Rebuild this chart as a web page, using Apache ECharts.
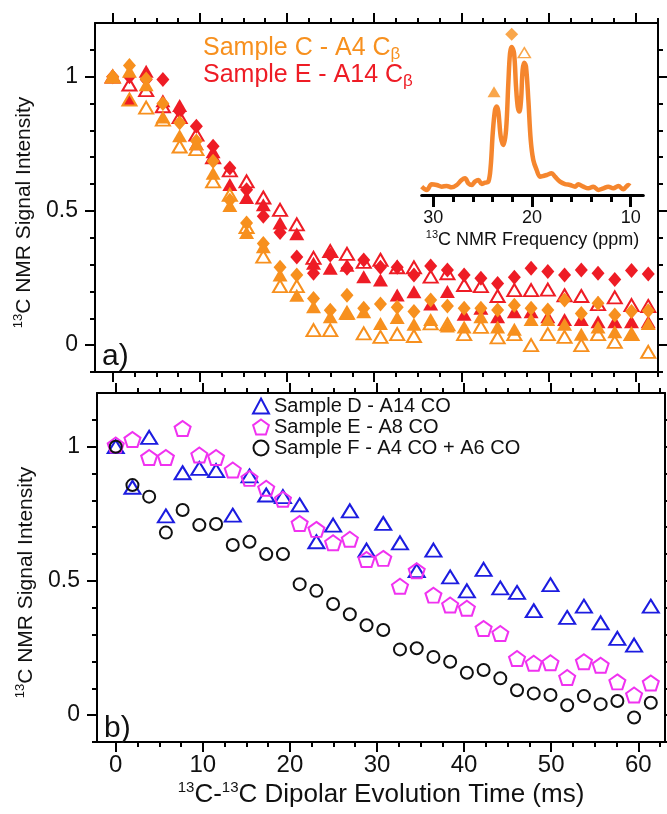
<!DOCTYPE html>
<html><head><meta charset="utf-8">
<script src="https://cdn.jsdelivr.net/npm/echarts@6/dist/echarts.min.js"></script>
<style>html,body{margin:0;padding:0;background:#fff}#c{width:667px;height:814px}</style>
</head><body><div id="c"></div>
<script>
// ---------- data ----------
const times = [0, 1.92, 3.84, 5.76, 7.68, 9.6, 11.52, 13.44, 15.36, 17.28, 19.2, 21.12, 23.04, 24.96, 26.88, 28.8, 30.72, 32.64, 34.56, 36.48, 38.4, 40.32, 42.24, 44.16, 46.08, 48, 49.92, 51.84, 53.76, 55.68, 57.6, 59.52, 61.44];

// panel a) Sample C - A4 Cbeta (orange)
const cTri  = [1.00, 1.02, 0.97, 0.85, 0.78, 0.75, 0.64, 0.52, 0.42, 0.367, 0.261, 0.186, 0.143, 0.106, 0.118, 0.124, 0.081, 0.103, 0.078, 0.096, 0.071, 0.068, 0.106, 0.068, 0.059, 0.096, 0.096, 0.078, 0.041, 0.068, 0.05, 0.041, 0.081];
const cOpen = [1.00, 0.915, 0.885, 0.84, 0.74, 0.73, 0.61, 0.56, 0.44, 0.33, 0.22, 0.22, 0.056, 0.056, 0.12, 0.044, 0.031, 0.041, 0.034, 0.081, 0.078, 0.041, 0.068, 0.029, 0.041, 0.0, 0.041, 0.031, 0.0, 0.041, 0.012, 0.041, -0.025];
const cDia  = [1.00, 1.042, 0.991, 0.90, 0.828, 0.76, 0.685, 0.54, 0.455, 0.379, 0.29, 0.261, 0.174, 0.13, 0.186, 0.137, 0.153, 0.141, 0.125, 0.168, 0.146, 0.137, 0.137, 0.131, 0.149, 0.137, 0.131, 0.168, 0.118, 0.156, 0.112, 0.125, 0.128];
// panel a) Sample E - A14 Cbeta (red)
const eTri  = [1.00, 0.915, 1.02, 0.91, 0.893, 0.75, 0.72, 0.598, 0.55, 0.523, 0.455, 0.415, 0.305, 0.286, 0.298, 0.255, 0.243, 0.187, 0.199, 0.153, 0.2, 0.115, 0.137, 0.106, 0.124, 0.124, 0.106, 0.096, 0.096, 0.087, 0.087, 0.087, 0.087];
const eOpen = [1.00, 0.971, 0.95, 0.89, 0.85, 0.784, 0.70, 0.651, 0.61, 0.55, 0.504, 0.45, 0.325, 0.35, 0.34, 0.31, 0.318, 0.29, 0.29, 0.255, 0.268, 0.224, 0.22, 0.183, 0.205, 0.205, 0.207, 0.186, 0.183, 0.153, 0.178, 0.149, 0.146];
const eDia  = [1.00, 1.00, 0.99, 0.99, 0.87, 0.815, 0.741, 0.66, 0.579, 0.48, 0.42, 0.328, 0.268, 0.336, 0.286, 0.317, 0.29, 0.29, 0.261, 0.295, 0.28, 0.261, 0.249, 0.23, 0.253, 0.286, 0.274, 0.261, 0.28, 0.268, 0.245, 0.278, 0.265];

// panel b)
const dCO = [1.0, 0.849, 1.035, 0.742, 0.903, 0.919, 0.911, 0.745, 0.891, 0.82, 0.814, 0.783, 0.646, 0.708, 0.761, 0.615, 0.714, 0.642, 0.538, 0.615, 0.515, 0.463, 0.543, 0.474, 0.457, 0.389, 0.486, 0.364, 0.406, 0.344, 0.286, 0.261, 0.406];
const eCO = [1.006, 1.027, 0.96, 0.96, 1.068, 0.969, 0.96, 0.913, 0.882, 0.845, 0.804, 0.714, 0.692, 0.642, 0.655, 0.58, 0.584, 0.48, 0.538, 0.447, 0.41, 0.398, 0.323, 0.304, 0.211, 0.193, 0.195, 0.14, 0.199, 0.186, 0.124, 0.075, 0.12];
const fCO = [1.0, 0.857, 0.814, 0.68, 0.764, 0.708, 0.712, 0.634, 0.646, 0.6, 0.6, 0.488, 0.463, 0.414, 0.376, 0.335, 0.317, 0.245, 0.249, 0.217, 0.199, 0.158, 0.168, 0.137, 0.093, 0.081, 0.075, 0.037, 0.071, 0.041, 0.053, -0.009, 0.046];

// inset spectrum
const specPpm = [31.18, 30.67, 30.17, 29.66, 29.15, 28.65, 28.14, 27.63, 27.13, 26.79, 26.45, 26.11, 25.78, 25.44, 25.10, 24.76, 24.42, 24.19, 23.98, 23.75, 23.58, 23.41, 23.17, 22.90, 22.63, 22.40, 22.23, 22.06, 21.82, 21.62, 21.45, 21.28, 21.11, 20.95, 20.78, 20.61, 20.37, 20.13, 19.87, 19.53, 19.19, 18.85, 18.51, 18.01, 17.67, 17.16, 16.66, 16.15, 15.64, 15.31, 14.80, 14.29, 13.79, 13.28, 12.77, 12.27, 11.76, 11.25, 10.75, 10.24, 10.07];
const specInt = [-0.005, -0.029, 0.012, 0.007, -0.005, 0.0, -0.01, 0.007, 0.043, 0.055, 0.019, 0.007, 0.031, 0.043, 0.014, 0.024, 0.031, 0.139, 0.379, 0.547, 0.571, 0.535, 0.355, 0.295, 0.403, 0.739, 0.954, 1.0, 0.954, 0.715, 0.571, 0.535, 0.619, 0.835, 0.887, 0.859, 0.619, 0.331, 0.187, 0.115, 0.067, 0.072, 0.079, 0.091, 0.067, 0.031, 0.014, 0.007, -0.005, 0.012, -0.005, -0.017, -0.005, -0.029, -0.017, -0.005, -0.017, 0.0, -0.024, 0.007, 0.0];
const peakTri = [23.85, 0.678];
const peakDia = [22.06, 1.091];
const peakOpen = [20.78, 0.959];

// ticks
const xMajor = [0, 10, 20, 30, 40, 50, 60];
const xMinor = [2.5, 5, 7.5, 12.5, 15, 17.5, 22.5, 25, 27.5, 32.5, 35, 37.5, 42.5, 45, 47.5, 52.5, 55, 57.5, 62.5];
const yMajor = [0, 0.5, 1];
const yMinor = [-0.1, 0.1, 0.2, 0.3, 0.4, 0.6, 0.7, 0.8, 0.9, 1.1];
const ppmMajor = [10, 20, 30];
const ppmMinor = [12, 14, 16, 18, 22, 24, 26, 28];

// ---------- chart ----------
const FONT = '"Liberation Sans", Arial, sans-serif';
const ORANGE = '#F7901E', RED = '#EE1C25', BLUE = '#1C1CE0', MAG = '#F032F0', BLACK = '#111';
const PENT = 'path://M0,-1 L0.951,-0.309 L0.588,0.809 L-0.588,0.809 L-0.951,-0.309 Z';

function ax(type, grid, pos, min, max, ticks, len, opts) {
  opts = opts || {};
  return Object.assign({
    type: 'value', gridIndex: grid, position: pos, min: min, max: max,
    axisLine: { show: !!opts.line, onZero: false, lineStyle: { color: '#000', width: opts.lw || 2 } },
    axisTick: { show: true, inside: false, length: len, customValues: ticks, lineStyle: { color: '#000', width: opts.tw || 2 } },
    axisLabel: { show: !!opts.labels, customValues: ticks, fontSize: opts.fs || 23, color: BLACK, fontFamily: FONT, margin: opts.margin || 10 },
    splitLine: { show: false }, minorTick: { show: false }
  }, opts.extra || {});
}
const ysup = { s: { fontSize: 13, lineHeight: 18, verticalAlign: 'top', fontFamily: FONT, color: BLACK }, m: { fontSize: 21, lineHeight: 26, fontFamily: FONT, color: BLACK } };
function yName(){ return { name: '{s|13}{m|C NMR Signal Intensity}', nameLocation: 'middle', nameRotate: 90, nameGap: 52, nameTextStyle: { rich: ysup, padding: [0, 30, 0, 0] } }; }

const A = { xmin: -2.03, xmax: 62.56, ymin: -0.1, ymax: 1.2 };
const B = { xmin: -2.15, xmax: 63.07, ymin: -0.1, ymax: 1.2 };

const xAxes = [
  ax('x', 0, 'bottom', A.xmin, A.xmax, xMajor, 10, { line: true }),
  ax('x', 0, 'bottom', A.xmin, A.xmax, xMinor, 5),
  ax('x', 0, 'top', A.xmin, A.xmax, xMajor, 10, { line: true }),
  ax('x', 0, 'top', A.xmin, A.xmax, xMinor, 5),
  ax('x', 1, 'bottom', B.xmin, B.xmax, xMajor, 10, { line: true, labels: true, fs: 24, margin: 11, extra: {
    name: '{s|13}{m|C-}{s|13}{m|C Dipolar Evolution Time (ms)}', nameLocation: 'middle', nameGap: 38,
    nameTextStyle: { rich: { s: { fontSize: 15, lineHeight: 20, verticalAlign: 'top', fontFamily: FONT, color: BLACK }, m: { fontSize: 26, lineHeight: 30, fontFamily: FONT, color: BLACK } } } } }),
  ax('x', 1, 'bottom', B.xmin, B.xmax, xMinor, 5),
  ax('x', 1, 'top', B.xmin, B.xmax, xMajor, 10, { line: true }),
  ax('x', 1, 'top', B.xmin, B.xmax, xMinor, 5),
  ax('x', 2, 'bottom', 8.72, 31.18, ppmMajor, 12, { line: true, labels: true, fs: 18, margin: 14, lw: 3, tw: 3, extra: {
    inverse: true,
    name: '{s|13}{m|C NMR Frequency (ppm)}', nameLocation: 'middle', nameGap: 34,
    nameTextStyle: { rich: { s: { fontSize: 11, lineHeight: 14, verticalAlign: 'top', fontFamily: FONT, color: BLACK }, m: { fontSize: 18, lineHeight: 22, fontFamily: FONT, color: BLACK } } } } }),
  ax('x', 2, 'bottom', 8.72, 31.18, ppmMinor, 7, { tw: 3, extra: { inverse: true } })
];
const yAxes = [
  ax('y', 0, 'left', A.ymin, A.ymax, yMajor, 10, { line: true, labels: true, margin: 17, extra: yName() }),
  ax('y', 0, 'left', A.ymin, A.ymax, yMinor, 5),
  ax('y', 0, 'right', A.ymin, A.ymax, yMajor, 10, { line: true }),
  ax('y', 0, 'right', A.ymin, A.ymax, yMinor, 5),
  ax('y', 1, 'left', B.ymin, B.ymax, yMajor, 10, { line: true, labels: true, margin: 17, extra: yName() }),
  ax('y', 1, 'left', B.ymin, B.ymax, yMinor, 5),
  ax('y', 1, 'right', B.ymin, B.ymax, yMajor, 10, { line: true }),
  ax('y', 1, 'right', B.ymin, B.ymax, yMinor, 5),
  { type: 'value', gridIndex: 2, min: -0.065, max: 1.158, show: false }
];

const pairs = (arr) => times.map((t, i) => [t, arr[i]]);
function sc(name, arr, xi, yi, symbol, size, color, open, z) {
  return {
    type: 'scatter', name: name, xAxisIndex: xi, yAxisIndex: yi, data: pairs(arr),
    symbol: symbol, symbolSize: size, clip: false, z: z || 2,
    itemStyle: open ? { color: 'rgba(255,255,255,0)', borderColor: color, borderWidth: 2, opacity: 1 } : { color: color, opacity: 1 },
    emphasis: { disabled: true }
  };
}

const series = [
  sc('eDia', eDia, 0, 0, 'diamond', [13, 15], RED, false),
  sc('eTri', eTri, 0, 0, 'triangle', [15, 13], RED, false),
  sc('eOpen', eOpen, 0, 0, 'triangle', [14, 12], RED, true),
  sc('cDia', cDia, 0, 0, 'diamond', [13, 15], ORANGE, false),
  sc('cOpen', cOpen, 0, 0, 'triangle', [14, 12], ORANGE, true),
  sc('cTri', cTri, 0, 0, 'triangle', [15, 13], ORANGE, false),
  sc('Sample D - A14 CO', dCO, 4, 4, 'triangle', [16, 13], BLUE, true),
  sc('Sample E - A8 CO', eCO, 4, 4, PENT, [16, 15], MAG, true),
  sc('Sample F - A4 CO + A6 CO', fCO, 4, 4, 'circle', 12, BLACK, true),
  { type: 'line', name: 'spectrum', xAxisIndex: 8, yAxisIndex: 8, data: specPpm.map((p, i) => [p, specInt[i]]),
    showSymbol: false, smooth: 0.35, lineStyle: { color: '#F5862E', width: 4.5 }, clip: false },
  { type: 'scatter', xAxisIndex: 8, yAxisIndex: 8, data: [peakTri], symbol: 'triangle', symbolSize: [13, 11], itemStyle: { color: ORANGE }, clip: false },
  { type: 'scatter', xAxisIndex: 8, yAxisIndex: 8, data: [peakDia], symbol: 'diamond', symbolSize: [13, 13], itemStyle: { color: ORANGE }, clip: false },
  { type: 'scatter', xAxisIndex: 8, yAxisIndex: 8, data: [peakOpen], symbol: 'triangle', symbolSize: [12, 10], itemStyle: { color: '#fff', borderColor: ORANGE, borderWidth: 1.5 }, clip: false }
];

const legRich = (c) => ({ m: { fontSize: 25, lineHeight: 30, color: c, fontFamily: FONT, fontWeight: 'normal' }, b: { fontSize: 17, lineHeight: 10, verticalAlign: 'bottom', color: c, fontFamily: FONT, fontWeight: 'normal' } });

const option = {
  animation: false,
  backgroundColor: '#fff',
  grid: [
    { left: 95, top: 23, width: 563, height: 349 },
    { left: 97, top: 393, width: 568, height: 349 },
    { left: 421.7, top: 25, width: 221.6, height: 170 }
  ],
  xAxis: xAxes,
  yAxis: yAxes,
  title: [
    { text: '{m|Sample C - A4 C}{b|β}', left: 203, top: 33, padding: 0, textStyle: { fontWeight: 'normal', rich: legRich(ORANGE) } },
    { text: '{m|Sample E - A14 C}{b|β}', left: 203, top: 60, padding: 0, textStyle: { fontWeight: 'normal', rich: legRich(RED) } },
    { text: 'a)', left: 102, top: 342, padding: 0, textStyle: { fontSize: 30, fontWeight: 'normal', color: BLACK, fontFamily: FONT } },
    { text: 'b)', left: 104, top: 714, padding: 0, textStyle: { fontSize: 30, fontWeight: 'normal', color: BLACK, fontFamily: FONT } }
  ],
  legend: {
    data: ['Sample D - A14 CO', 'Sample E - A8 CO', 'Sample F - A4 CO + A6 CO'],
    orient: 'vertical', left: 252, top: 396, itemWidth: 16, itemHeight: 15, itemGap: 1, padding: 0,
    textStyle: { fontSize: 20, lineHeight: 20, color: BLACK, fontFamily: FONT }
  },
  series: series
};
const chart = echarts.init(document.getElementById('c'));
chart.setOption(option);
</script></body></html>
